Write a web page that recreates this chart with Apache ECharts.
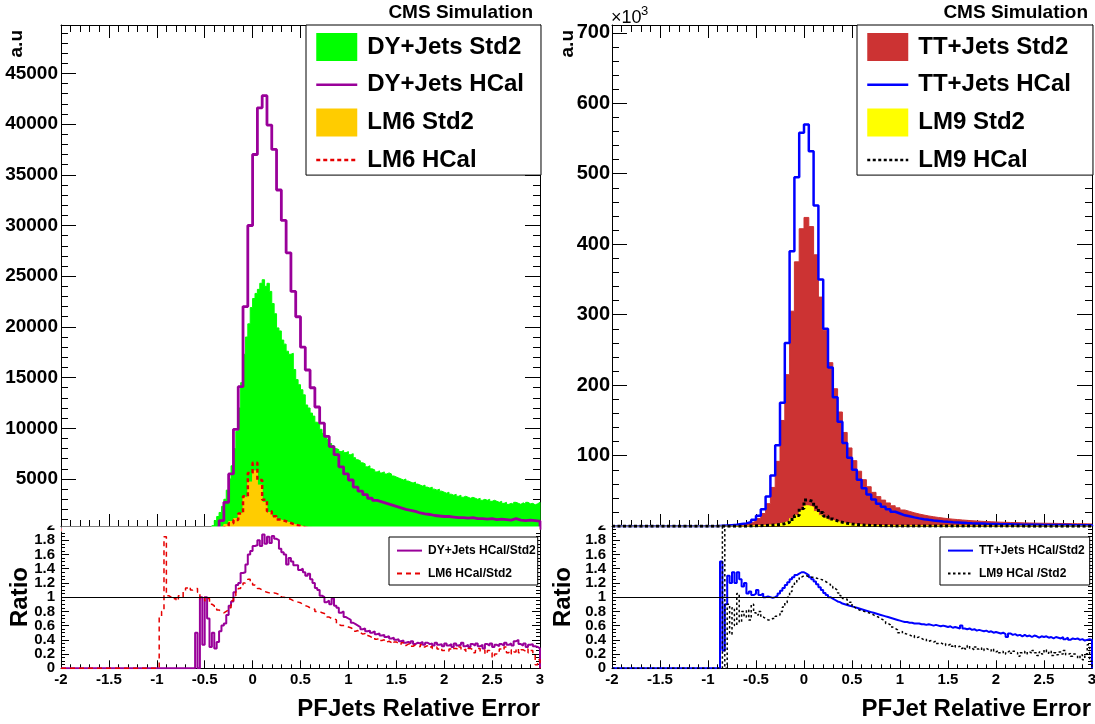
<!DOCTYPE html>
<html>
<head>
<meta charset="utf-8">
<script src="https://cdn.jsdelivr.net/npm/echarts@6/dist/echarts.min.js"></script>
<style>
  html, body { margin: 0; padding: 0; background: #fff; }
  #chart { width: 1095px; height: 724px; }
</style>
</head>
<body>
<div id="chart"></div>
<script>
const FONT = "'Liberation Sans', Arial, Helvetica, sans-serif";
const X_MIN = -2, X_MAX = 3;
const FINE_BIN = 0.025, COARSE_BIN = 0.05;

// ---------- DY+Jets / LM6 distributions (left pad), entries per bin ----------
const dyStd2Start = -0.45;            // bin width 0.025
const dyStd2 = [
  150, 400, 900, 1300, 1700, 2300, 3000, 3900,
  5000, 6300, 8000, 9700, 12000, 14500, 17300, 19000,
  20300, 21900, 22800, 23300, 23700, 24300, 24650, 24000,
  24300, 23500, 22300, 21300, 19900, 19600, 18700, 18300,
  17600, 17300, 17400, 15800, 14800, 14300, 13800, 13300,
  12300, 12000, 11500, 11200, 10600, 10500, 9900, 9500,
  9300, 8900, 8500, 8300, 8000, 7900, 7700, 7800,
  7600, 7700, 7400, 7500, 7100, 6900, 6800, 6600,
  6500, 6200, 6300, 6000, 5900, 5700, 5800, 5600,
  5700, 5500, 5600, 5500, 5300, 5200, 5100, 5000,
  4900, 5000, 4800, 4700, 4600, 4700, 4500, 4400,
  4300, 4400, 4200, 4100, 4200, 4000, 3900, 4000,
  3800, 3700, 3600, 3700, 3500, 3400, 3500, 3300,
  3400, 3200, 3300, 3200, 3100, 3200, 3100, 3000,
  3100, 2900, 3000, 2900, 3000, 2800, 2900, 2800,
  2700, 2800, 2600, 2700, 2500, 2600, 2500, 2700,
  2600, 2500, 2650, 2500, 2700, 2550, 2600, 2450,
  2550, 2700
];
const dyHcalStart = -0.45;            // bin width 0.05
const dyHcal = [
  100, 200, 900, 2700, 5500, 9900, 14100, 22000, 30000,
  37000, 41600, 42800, 39900, 37500, 33500, 30500, 27300, 23500, 21000,
  18000, 15750, 14000, 12100, 10500, 9200, 8200, 7400, 6200, 5500,
  4900, 4200, 3800, 3450, 3100, 2900, 2750, 2600, 2450, 2300,
  2150, 2000, 1900, 1800, 1650, 1550, 1500, 1400, 1350, 1300,
  1300, 1250, 1200, 1200, 1150, 1200, 1100, 1100, 1050, 1100,
  1000, 1050, 1000, 950, 1100, 950, 900, 950, 900, 850
];
const lm6Start = -0.4;                // bin width 0.05
const lm6Std2 = [
  120, 300, 520, 800, 1100, 1620, 3200, 4700, 5800, 4400,
  2700, 1700, 1250, 950, 800, 650, 500, 400, 250, 180,
  120, 80, 50
];
const lm6Hcal = [
  70, 210, 390, 640, 950, 1600, 3300, 5600, 6600, 4900,
  2950, 1820, 1320, 1000, 830, 660, 490, 380, 230, 160,
  105, 70, 40
];

// ---------- left ratios, bin width 0.025 ----------
const dyRatioStart = -0.6;
const dyRatio = [
  0.5, 0, 1.0, 0.33, 1.0, 0.7, 0.3, 0.5,
  0.28, 0.37, 0.52, 0.6, 0.63, 0.75, 0.88, 0.94,
  1.07, 1.17, 1.2, 1.34, 1.35, 1.46, 1.6, 1.65,
  1.72, 1.73, 1.8, 1.72, 1.88, 1.75, 1.85, 1.76,
  1.86, 1.82, 1.8, 1.68, 1.63, 1.6, 1.46, 1.55,
  1.5, 1.45, 1.45, 1.38, 1.4, 1.35, 1.3, 1.33,
  1.25, 1.2, 1.13, 1.1, 1.02, 1.0, 0.93, 0.95,
  0.9, 0.98, 0.88, 0.85, 0.78, 0.8, 0.72, 0.7,
  0.68, 0.64, 0.62, 0.6, 0.58, 0.55, 0.56, 0.52,
  0.53, 0.5, 0.52, 0.48, 0.49, 0.46, 0.47, 0.44,
  0.45, 0.42, 0.43, 0.4, 0.41, 0.38, 0.39, 0.36,
  0.37, 0.35, 0.38, 0.34, 0.36, 0.35, 0.37, 0.33,
  0.36, 0.34, 0.35, 0.32, 0.36, 0.33, 0.34, 0.31,
  0.35, 0.32, 0.34, 0.3, 0.35, 0.32, 0.33, 0.36,
  0.31, 0.33, 0.3, 0.34, 0.32, 0.35, 0.31, 0.33,
  0.28, 0.34, 0.32, 0.35, 0.3, 0.33, 0.31, 0.34,
  0.32, 0.36, 0.33, 0.35, 0.32, 0.38, 0.4, 0.34,
  0.32, 0.35, 0.3, 0.33, 0.34, 0.31, 0.3, 0.28
];
const lm6RatioStart = -1.0;
const lm6Ratio = [
  0, 0.72, 0.8, 1.85, 1.02, 1.0, 0.97, 0.99,
  0.95, 1.02, 1.0, 1.08, 1.13, 1.15, 1.1, 1.12,
  1.12, 1.07, 0.98, 1.0, 0.95, 0.98, 0.9, 0.88,
  0.85, 0.82, 0.8, 0.78, 0.8, 0.82, 0.85, 0.95,
  1.02, 1.08, 1.12, 1.15, 1.2, 1.22, 1.25, 1.2,
  1.17, 1.15, 1.12, 1.1, 1.08, 1.07, 1.06, 1.05,
  1.06, 1.05, 1.04, 1.03, 1.0, 0.99, 0.98, 0.97,
  0.95, 0.94, 0.93, 0.92, 0.9, 0.88, 0.87, 0.85,
  0.84, 0.83, 0.8, 0.8, 0.78, 0.77, 0.75, 0.72,
  0.7, 0.7, 0.68, 0.62, 0.6, 0.6, 0.6, 0.58,
  0.57, 0.55, 0.52, 0.53, 0.5, 0.48, 0.49, 0.46,
  0.45, 0.43, 0.44, 0.41, 0.42, 0.39, 0.4, 0.37,
  0.38, 0.36, 0.34, 0.37, 0.35, 0.33, 0.36, 0.32,
  0.34, 0.35, 0.31, 0.33, 0.32, 0.3, 0.33, 0.3,
  0.32, 0.29, 0.31, 0.28, 0.3, 0.27, 0.29, 0.25,
  0.26, 0.24, 0.27, 0.25, 0.28, 0.26, 0.3, 0.25,
  0.27, 0.24, 0.28, 0.26, 0.22, 0.25, 0.28, 0.24,
  0.26, 0.2, 0.25, 0.22, 0.15, 0.2, 0.24, 0.27,
  0.25, 0.3, 0.22, 0.26, 0.2, 0.23, 0.28, 0.22,
  0.26, 0.24, 0.27, 0.22, 0.25, 0.2, 0.05, 0.12
];

// ---------- TT+Jets / LM9 distributions (right pad), in units of 10^3 ----------
const ttStart = -0.9;                 // bin width 0.05
const ttStd2 = [
  0.3, 0.6, 1.0, 1.4, 2.0, 3.0, 4.5, 7, 11, 18,
  32, 55, 92, 150, 215, 305, 375, 422, 438, 425,
  385, 325, 278, 232, 195, 162, 133, 111, 93, 78,
  66, 56, 48, 42, 37, 33, 29, 26, 23, 21,
  19, 17.3, 15.8, 14.5, 13.4, 12.4, 11.5, 10.7, 10, 9.4,
  8.8, 8.3, 7.8, 7.4, 7, 6.6, 6.3, 6, 5.7, 5.5,
  5.3, 5.1, 4.9, 4.7, 4.6, 4.4, 4.3, 4.2, 4.1, 4,
  3.9, 3.8, 3.7, 3.6, 3.5, 3.4, 3.3, 3.2
];
const ttHcal = [
  0.5, 1.0, 1.5, 2.0, 3.0, 4.0, 6.0, 9, 15, 24,
  42, 72, 115, 175, 260, 390, 495, 558, 570, 532,
  455, 350, 280, 225, 183, 148, 118, 97, 80, 66,
  54, 45, 38, 32, 27.5, 24, 20.5, 18, 15.4, 14,
  12.5, 11.1, 10, 9, 8.2, 7.5, 6.8, 6.2, 5.7, 5.3,
  4.9, 4.5, 4.2, 3.95, 3.7, 3.45, 3.25, 3.05, 2.85, 2.7,
  2.6, 2.45, 2.3, 2.2, 2.1, 2.0, 1.95, 1.85, 1.8, 1.75,
  1.7, 1.6, 1.55, 1.5, 1.45, 1.4, 1.35, 1.3
];
const lm9Start = -0.6;                // bin width 0.05
const lm9Std2 = [
  0.4, 0.6, 0.9, 1.3, 1.8, 2.5, 3.5, 5, 7.5, 11,
  15.5, 22, 29, 27, 21, 15.5, 11.5, 8.5, 6.5, 5,
  4, 3.2, 2.6, 2.1, 1.7, 1.4, 1.2, 1.0, 0.85, 0.75,
  0.65, 0.55
];
const lm9Hcal = [
  0.3, 0.5, 0.7, 1.0, 1.3, 1.8, 2.4, 3.6, 5.6, 9.4,
  15.2, 25, 37, 35, 27, 19.5, 14.3, 10.2, 7.5, 5.5,
  4.1, 3.1, 2.4, 1.85, 1.4, 1.1, 0.95, 0.75, 0.6, 0.5,
  0.4, 0.3
];

// ---------- right ratios, bin width 0.025 ----------
const ttRatioStart = -1.0;
const ttRatio = [
  0, 0, 0, 0, 0, 1.5, 0.25, 0.9,
  1.3, 1.2, 1.35, 1.2, 1.35, 1.25, 1.15, 1.2,
  1.05, 1.08, 1.03, 1.05, 1.1, 1.03, 1.05, 1.0,
  1.01, 1.0, 0.99, 1.0, 1.02, 1.05, 1.09, 1.13,
  1.17, 1.21, 1.25, 1.28, 1.31, 1.33, 1.35, 1.35,
  1.33, 1.31, 1.28, 1.25, 1.22, 1.18, 1.14, 1.1,
  1.06, 1.03, 1.0, 0.98, 0.96, 0.94, 0.93, 0.91,
  0.9, 0.89, 0.88, 0.87, 0.86, 0.85, 0.84, 0.83,
  0.82, 0.81, 0.8, 0.79, 0.78, 0.77, 0.76, 0.75,
  0.74, 0.73, 0.72, 0.71, 0.7, 0.69, 0.68, 0.67,
  0.66, 0.65, 0.65, 0.64, 0.64, 0.63, 0.63, 0.63,
  0.62, 0.62, 0.61, 0.62, 0.61, 0.6, 0.61, 0.6,
  0.59, 0.6, 0.59, 0.58, 0.59, 0.57, 0.58, 0.57,
  0.56, 0.6, 0.56, 0.55, 0.56, 0.54, 0.55, 0.53,
  0.54, 0.53, 0.52, 0.53, 0.51, 0.52, 0.5, 0.51,
  0.5, 0.49, 0.5, 0.48, 0.44, 0.49, 0.47, 0.48,
  0.46, 0.47, 0.45, 0.47, 0.45, 0.46, 0.44, 0.46,
  0.45, 0.43, 0.45, 0.44, 0.45, 0.43, 0.44, 0.42,
  0.44, 0.43, 0.42, 0.44, 0.41, 0.43, 0.4, 0.42,
  0.41, 0.42, 0.4, 0.41, 0.39, 0.4, 0.41, 0.4
];
const lm9RatioStart = -1.0;
const lm9Ratio = [
  0, 0, 0, 0, 0, 0, 2.4, 0,
  0.9, 0.48, 0.85, 0.6, 1.05, 0.65, 0.8, 0.72,
  0.82, 0.68, 0.9, 0.78, 0.75, 0.8, 0.72, 0.7,
  0.68, 0.68, 0.7, 0.7, 0.73, 0.75, 0.8, 0.86,
  0.92, 1.0, 1.08, 1.15, 1.2, 1.25, 1.28, 1.3,
  1.3, 1.29, 1.28, 1.28, 1.27, 1.26, 1.25, 1.24,
  1.22, 1.2, 1.18, 1.15, 1.12, 1.1, 1.06, 1.02,
  0.98, 0.97, 0.9, 0.93, 0.86, 0.84, 0.82, 0.81,
  0.8, 0.79, 0.78, 0.77, 0.75, 0.73, 0.72, 0.7,
  0.68, 0.66, 0.63, 0.61, 0.58, 0.56, 0.54, 0.5,
  0.52, 0.49, 0.48, 0.47, 0.45, 0.46, 0.43, 0.44,
  0.42, 0.4, 0.41, 0.38, 0.39, 0.37, 0.38, 0.35,
  0.36, 0.34, 0.35, 0.32, 0.34, 0.31, 0.33, 0.3,
  0.31, 0.28, 0.3, 0.27, 0.32, 0.28, 0.26, 0.3,
  0.27, 0.29, 0.25, 0.28, 0.26, 0.24, 0.27, 0.23,
  0.25, 0.22, 0.24, 0.2, 0.23, 0.25, 0.21, 0.24,
  0.22, 0.17, 0.22, 0.24, 0.2, 0.23, 0.21, 0.25,
  0.22, 0.18, 0.23, 0.2, 0.26, 0.21, 0.24, 0.18,
  0.22, 0.19, 0.23, 0.2, 0.25, 0.19, 0.21, 0.17,
  0.2, 0.18, 0.14, 0.19, 0.12, 0.2, 0.33, 0.1
];

// ---------- axis ranges and tick steps ----------
const leftYTicks = { min: 0, max: 49770, step: 5000 };
const rightYTicks = { min: 0, max: 711, step: 100 };
const ratioTicks = { min: 0, max: 2, step: 0.2 };
const ratioEndTicks = { min: 0, max: 2, step: 2 };
const xTicks = { min: X_MIN, max: X_MAX, step: 0.5 };

// Turn per-bin contents into step-line vertices (low edge of each bin, then closing edge)
function histogram(start, width, values) {
  const pts = [[X_MIN, 0]];
  values.forEach((v, i) => pts.push([+(start + i * width).toFixed(4), v]));
  pts.push([+(start + values.length * width).toFixed(4), 0]);
  pts.push([X_MAX, 0]);
  return pts;
}

const black = '#000';
function xAxisDef(grid, position, tick, minor, inside, label) {
  return {
    type: 'value', gridIndex: grid, position: position,
    min: xTicks.min, max: xTicks.max, interval: xTicks.step,
    axisLine: { show: true, onZero: false, lineStyle: { color: black, width: 1 } },
    axisTick: { show: true, inside: inside, length: tick, lineStyle: { color: black, width: 1 } },
    minorTick: { show: true, splitNumber: 5, length: minor, lineStyle: { color: black, width: 1 } },
    axisLabel: label ? {
      show: true, margin: 4, color: black, fontFamily: FONT, fontWeight: 'bold', fontSize: 15,
      showMinLabel: true, showMaxLabel: true
    } : { show: false },
    splitLine: { show: false }, minorSplitLine: { show: false }
  };
}
function yAxisDef(grid, position, ticks, tick, minor, minorSplit, label) {
  return {
    type: 'value', gridIndex: grid, position: position,
    min: ticks.min, max: ticks.max, interval: ticks.step,
    axisLine: { show: true, onZero: false, lineStyle: { color: black, width: 1 } },
    axisTick: { show: true, inside: true, length: tick, lineStyle: { color: black, width: 1 } },
    minorTick: { show: true, splitNumber: minorSplit, length: minor, lineStyle: { color: black, width: 1 } },
    axisLabel: label || { show: false },
    splitLine: { show: false }, minorSplitLine: { show: false }
  };
}
// label-only axis carrying the two end values of a ratio pad
function ratioEndAxis(grid) {
  return {
    type: 'value', gridIndex: grid, position: 'left',
    min: ratioEndTicks.min, max: ratioEndTicks.max, interval: ratioEndTicks.step,
    axisLine: { show: false, onZero: false }, axisTick: { show: false }, minorTick: { show: false },
    splitLine: { show: false },
    axisLabel: {
      show: true, margin: 6, color: black, fontFamily: FONT, fontWeight: 'bold', fontSize: 15,
      showMinLabel: true, showMaxLabel: true
    }
  };
}
function mainLabel(step, size, margin) {
  return {
    show: true, margin: margin, color: black, fontFamily: FONT, fontWeight: 'bold', fontSize: size,
    formatter: v => (v === 0 || Math.abs(v % step) > 1e-6 ? '' : String(v))
  };
}
const ratioLabel = {
  show: true, margin: 6, color: black, fontFamily: FONT, fontWeight: 'bold', fontSize: 15,
  showMinLabel: false, showMaxLabel: false
};

function fillSeries(name, color, data, xi, yi) {
  return {
    name, type: 'line', xAxisIndex: xi, yAxisIndex: yi, data, step: 'end',
    symbol: 'none', showSymbol: false, silent: true, animation: false,
    itemStyle: { color }, lineStyle: { color, width: 1 }, areaStyle: { color, opacity: 1 }
  };
}
function lineSeries(name, color, data, xi, yi, width, type) {
  return {
    name, type: 'line', xAxisIndex: xi, yAxisIndex: yi, data, step: 'end',
    symbol: 'none', showSymbol: false, silent: true, animation: false,
    itemStyle: { color }, lineStyle: { color, width, type }
  };
}
const unityLine = {
  silent: true, symbol: ['none', 'none'], label: { show: false },
  lineStyle: { color: black, width: 1, type: 'solid' },
  data: [{ yAxis: 1 }]
};

const C = {
  green: '#00ff00', purple: '#990099', orange: '#ffcc00', red: '#e60000',
  ttRed: '#cc3333', blue: '#0000ff', yellow: '#ffff00', black: '#000000'
};

function bigLegend(left, padding, names) {
  return {
    orient: 'vertical', left: left, top: 25, padding: padding,
    itemWidth: 41, itemHeight: 28, itemGap: 11.7, selectedMode: false,
    backgroundColor: '#fff', borderColor: black, borderWidth: 1,
    textStyle: { fontFamily: FONT, fontWeight: 'bold', fontSize: 24, color: black, padding: [0, 0, 0, 5] },
    data: [
      { name: names[0], icon: 'rect' },
      { name: names[1], itemStyle: { opacity: 0 }, lineStyle: { width: 2.5 } },
      { name: names[2], icon: 'rect' },
      { name: names[3], itemStyle: { opacity: 0 }, lineStyle: { width: 2.5 } }
    ]
  };
}
function ratioLegend(left, padding, names) {
  return {
    orient: 'vertical', left: left, top: 537, padding: padding,
    itemWidth: 25, itemHeight: 14, itemGap: 11, selectedMode: false,
    backgroundColor: '#fff', borderColor: black, borderWidth: 1,
    textStyle: { fontFamily: FONT, fontWeight: 'bold', fontSize: 12, color: black, padding: [0, 0, 0, 1] },
    data: names.map(n => ({ name: n, itemStyle: { opacity: 0 } }))
  };
}

function text(x, y, str, size, opts) {
  return Object.assign({
    type: 'text', x: x, y: y, z: 110,
    style: Object.assign({
      text: str, fill: black, font: 'bold ' + size + 'px ' + FONT,
      align: 'left', verticalAlign: 'middle', textAlign: 'left', textVerticalAlign: 'middle'
    }, (opts && opts.style) || {})
  }, opts && opts.rotation !== undefined ? { rotation: opts.rotation } : {});
}
const alignRight = { style: { align: 'right', textAlign: 'right' } };
const vertical = { rotation: Math.PI / 2, style: { align: 'right', textAlign: 'right' } };
const verticalCenter = { rotation: Math.PI / 2, style: { align: 'center', textAlign: 'center' } };

const option = {
  backgroundColor: '#fff',
  animation: false,
  grid: [
    { left: 61, top: 25, width: 479, height: 504.7, outerBoundsMode: 'none', containLabel: false },
    { left: 61, top: 526, width: 479, height: 142.3, outerBoundsMode: 'none', containLabel: false },
    { left: 612, top: 25, width: 480, height: 501.2, outerBoundsMode: 'none', containLabel: false },
    { left: 612, top: 526, width: 480, height: 142.3, outerBoundsMode: 'none', containLabel: false }
  ],
  xAxis: [
    xAxisDef(0, 'top', 13, 7, true, false),
    xAxisDef(1, 'bottom', 8, 4, true, true),
    xAxisDef(1, 'top', 12, 6, false, false),
    xAxisDef(2, 'top', 13, 7, true, false),
    xAxisDef(3, 'bottom', 8, 4, true, true),
    xAxisDef(3, 'top', 12, 6, false, false)
  ],
  yAxis: [
    yAxisDef(0, 'left', leftYTicks, 15, 7, 5, mainLabel(5000, 19, 3)),
    yAxisDef(0, 'right', leftYTicks, 15, 7, 5, null),
    yAxisDef(1, 'left', ratioTicks, 8, 4, 4, ratioLabel),
    yAxisDef(1, 'right', ratioTicks, 8, 4, 4, null),
    yAxisDef(2, 'left', rightYTicks, 15, 7, 5, mainLabel(100, 20, 2)),
    yAxisDef(2, 'right', rightYTicks, 15, 7, 5, null),
    yAxisDef(3, 'left', ratioTicks, 8, 4, 4, ratioLabel),
    yAxisDef(3, 'right', ratioTicks, 8, 4, 4, null),
    ratioEndAxis(1),
    ratioEndAxis(3)
  ],
  legend: [
    bigLegend(306, [8, 17, 3, 9], ['DY+Jets Std2', 'DY+Jets HCal', 'LM6 Std2', 'LM6 HCal']),
    bigLegend(857, [8, 22, 3, 9], ['TT+Jets Std2', 'TT+Jets HCal', 'LM9 Std2', 'LM9 HCal']),
    ratioLegend(389, [7.6, 2, 5.4, 7], ['DY+Jets HCal/Std2', 'LM6 HCal/Std2']),
    ratioLegend(940, [7.6, 5, 5.4, 7], ['TT+Jets HCal/Std2', 'LM9 HCal /Std2'])
  ],
  series: [
    fillSeries('DY+Jets Std2', C.green, histogram(dyStd2Start, FINE_BIN, dyStd2), 0, 0),
    lineSeries('DY+Jets HCal', C.purple, histogram(dyHcalStart, COARSE_BIN, dyHcal), 0, 0, 2.8, 'solid'),
    fillSeries('LM6 Std2', C.orange, histogram(lm6Start, COARSE_BIN, lm6Std2), 0, 0),
    lineSeries('LM6 HCal', C.red, histogram(lm6Start, COARSE_BIN, lm6Hcal), 0, 0, 2.5, [4, 3]),

    Object.assign(lineSeries('DY+Jets HCal/Std2', C.purple, histogram(dyRatioStart, FINE_BIN, dyRatio), 1, 2, 2, 'solid'),
      { markLine: unityLine }),
    lineSeries('LM6 HCal/Std2', C.red, histogram(lm6RatioStart, FINE_BIN, lm6Ratio), 1, 2, 1.5, [5, 4]),

    fillSeries('TT+Jets Std2', C.ttRed, histogram(ttStart, COARSE_BIN, ttStd2), 3, 4),
    lineSeries('TT+Jets HCal', C.blue, histogram(ttStart, COARSE_BIN, ttHcal), 3, 4, 2.5, 'solid'),
    fillSeries('LM9 Std2', C.yellow, histogram(lm9Start, COARSE_BIN, lm9Std2), 3, 4),
    lineSeries('LM9 HCal', C.black, histogram(lm9Start, COARSE_BIN, lm9Hcal), 3, 4, 3, [3, 2.5]),

    Object.assign(lineSeries('TT+Jets HCal/Std2', C.blue, histogram(ttRatioStart, FINE_BIN, ttRatio), 4, 6, 2, 'solid'),
      { markLine: unityLine }),
    lineSeries('LM9 HCal /Std2', C.black, histogram(lm9RatioStart, FINE_BIN, lm9Ratio), 4, 6, 1.5, [2.5, 2.5])
  ],
  graphic: [
    // upper pad ends where the ratio pad begins
    { type: 'rect', z: 100, shape: { x: 61.5, y: 526.6, width: 478, height: 5.4 }, style: { fill: '#fff' } },
    { type: 'rect', z: 100, shape: { x: 28, y: 510, width: 32.5, height: 15.5 }, style: { fill: '#fff' } },
    { type: 'rect', z: 100, shape: { x: 579, y: 510, width: 32.5, height: 15.5 }, style: { fill: '#fff' } },

    text(533, 13, 'CMS Simulation', 19, alignRight),
    text(1088, 13, 'CMS Simulation', 19, alignRight),
    text(17, 30, 'a.u', 19, vertical),
    text(568, 30, 'a.u', 19, vertical),
    text(20, 597, 'Ratio', 24, verticalCenter),
    text(563, 597, 'Ratio', 24, verticalCenter),
    text(540, 709, 'PFJets Relative Error', 24, alignRight),
    text(1091, 709, 'PFJet Relative Error', 24, alignRight),
    { type: 'text', x: 611, y: 18, z: 110,
      style: { text: '×10', fill: black, font: '18px ' + FONT, align: 'left', verticalAlign: 'middle',
               textAlign: 'left', textVerticalAlign: 'middle' } },
    { type: 'text', x: 641, y: 11, z: 110,
      style: { text: '3', fill: black, font: '13px ' + FONT, align: 'left', verticalAlign: 'middle',
               textAlign: 'left', textVerticalAlign: 'middle' } }
  ]
};

const chart = echarts.init(document.getElementById('chart'), null, { renderer: 'canvas' });
chart.setOption(option);
</script>
</body>
</html>
